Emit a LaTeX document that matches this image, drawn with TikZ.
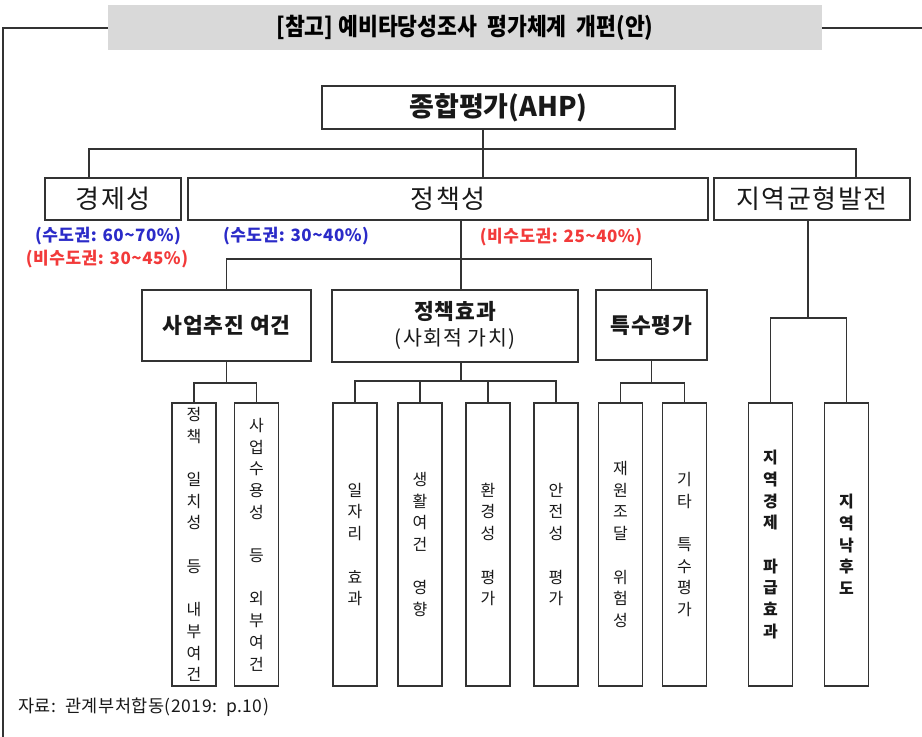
\documentclass[tikz,border=0pt]{standalone}
\usepackage{fontspec}
\usepackage{graphicx}
\setmainfont{Noto Sans CJK KR}
\definecolor{lineC}{HTML}{333333}
\definecolor{titleGray}{HTML}{D9D9D9}
\definecolor{pctBlue}{HTML}{2B2BC8}
\definecolor{pctRed}{HTML}{F23A3A}
\begin{document}
\begin{tikzpicture}[x=1pt,y=-1pt,
  box/.style={draw=lineC, line width=1.2pt, inner sep=0pt, fill=white, text=black!90, align=center},
  lvlone/.style={box, minimum height=42pt, font=\fontsize{26}{30}\selectfont\addfontfeature{LetterSpace=6}},
  lvltwo/.style={box, font=\fontsize{21.5}{26}\selectfont\bfseries\addfontfeature{LetterSpace=4}},
  leaf/.style={box, minimum width=44pt, minimum height=283pt, font=\fontsize{16}{21.7}\selectfont},
  conn/.style={draw=lineC, line width=1.3pt},
  pctb/.style={text=pctBlue, font=\fontsize{17}{20}\selectfont\bfseries\addfontfeature{LetterSpace=3}, inner sep=0pt},
  pctr/.style={text=pctRed, font=\fontsize{17}{20}\selectfont\bfseries\addfontfeature{LetterSpace=3}, inner sep=0pt}
]
\useasboundingbox (0,0) rectangle (922,737);

% frame and title
\node[fill=titleGray, minimum width=714pt, minimum height=45pt, inner sep=0pt] (title) at (465,27.5)
  {\scalebox{0.9}[1]{\fontsize{24}{28}\selectfont\bfseries [참고]\ 예비타당성조사\ \ 평가체계\ \ 개편(안)}};
\coordinate (frameTL) at (3,28);
\coordinate (frameBL) at (3,737);
\coordinate (frameR) at (922,28);
\draw[conn] (frameBL) -- (frameTL) -- (title.west |- frameTL);
\draw[conn] (title.east |- frameR) -- (frameR);

% level 0
\node[box, minimum width=353pt, minimum height=43pt, font=\fontsize{27}{30}\selectfont\bfseries] (ahp) at (498.5,107.5) {종합평가(AHP)};

% level 1
\node[lvlone, minimum width=136pt] (gj) at (113,199) {경제성};
\node[lvlone, minimum width=520pt] (jc) at (448,199) {정책성};
\node[lvlone, minimum width=196pt] (jy) at (812,199) {지역균형발전};

% percentages
\node[pctb] (p1) at (108,236) {(수도권: 60\textasciitilde70\%)};
\node[pctr] (p2) at (107,259) {(비수도권: 30\textasciitilde45\%)};
\node[pctb] (p3) at (296,236) {(수도권: 30\textasciitilde40\%)};
\node[pctr] (p4) at (561,237) {(비수도권: 25\textasciitilde40\%)};

% level 2
\node[lvltwo, minimum width=169pt, minimum height=71pt] (sa) at (226.5,325.5) {사업추진\ 여건};
\node[box, minimum width=246pt, minimum height=72pt] (jh) at (455,326) {};
\node[font=\fontsize{21.5}{26}\selectfont\bfseries\addfontfeature{LetterSpace=4}, text=black!90, inner sep=0pt] (jhA) at (455,311) {정책효과};
\node[font=\fontsize{20.5}{24}\selectfont\addfontfeature{LetterSpace=6}, text=black!90, inner sep=0pt] (jhB) at (455,339) {(사회적 가치)};
\node[lvltwo, minimum width=111pt, minimum height=70pt] (ts) at (651.5,325) {특수평가};

% leaves
\node[leaf] (c1) at (194,544.5) {정\\책\\~\\일\\치\\성\\~\\등\\~\\내\\부\\여\\건};
\node[leaf] (c2) at (256.5,544.5) {사\\업\\수\\용\\성\\~\\등\\~\\외\\부\\여\\건};
\node[leaf] (c3) at (355,544.5) {일\\자\\리\\~\\효\\과};
\node[leaf] (c4) at (420,544.5) {생\\활\\여\\건\\~\\영\\향};
\node[leaf] (c5) at (488,544.5) {환\\경\\성\\~\\평\\가};
\node[leaf] (c6) at (556,544.5) {안\\전\\성\\~\\평\\가};
\node[leaf] (c7) at (620.5,544.5) {재\\원\\조\\달\\~\\위\\험\\성};
\node[leaf] (c8) at (684.5,544.5) {기\\타\\~\\특\\수\\평\\가};
\node[leaf, font=\fontsize{16}{21.7}\selectfont\bfseries] (c9) at (770.5,544.5) {지\\역\\경\\제\\~\\파\\급\\효\\과};
\node[leaf, font=\fontsize{16}{21.7}\selectfont\bfseries] (c10) at (846.5,544.5) {지\\역\\낙\\후\\도};

% source
\node[anchor=west, font=\fontsize{17.5}{20}\selectfont\addfontfeature{LetterSpace=3}, text=black!90, inner sep=0pt] (src) at (18,707) {자료:\ \ 관계부처합동(2019:\ \ p.10)};

% connectors level 0 -> 1
\coordinate (b0) at (483,149);
\coordinate (b0L) at (89,149);
\coordinate (b0R) at (856,149);
\draw[conn] (ahp.south -| b0) -- (b0 |- jc.north);
\draw[conn] (b0L |- gj.north) -- (b0L) -- (b0R) -- (b0R |- jy.north);

% jc -> level 2
\coordinate (b1) at (461,259);
\draw[conn] (jc.south -| b1) -- (b1 |- jh.north);
\draw[conn] (sa.north) -- (sa.north |- b1) -- (b1) -- (ts.north |- b1) -- (ts.north);

% jy -> c9, c10
\coordinate (b2) at (808,318);
\draw[conn] (jy.south -| b2) -- (b2);
\draw[conn] (c9.north) -- (c9.north |- b2) -- (c10.north |- b2) -- (c10.north);

% sa -> c1, c2
\coordinate (b3) at (226.5,383);
\draw[conn] (sa.south) -- (b3);
\draw[conn] (c1.north) -- (c1.north |- b3) -- (c2.north |- b3) -- (c2.north);

% jh -> c3..c6
\coordinate (b4) at (461,381);
\draw[conn] (jh.south -| b4) -- (b4);
\draw[conn] (c3.north) -- (c3.north |- b4) -- (c6.north |- b4) -- (c6.north);
\draw[conn] (c4.north |- b4) -- (c4.north);
\draw[conn] (c5.north |- b4) -- (c5.north);

% ts -> c7, c8
\coordinate (b5) at (651.5,383);
\draw[conn] (ts.south) -- (b5);
\draw[conn] (c7.north) -- (c7.north |- b5) -- (c8.north |- b5) -- (c8.north);
\end{tikzpicture}
\end{document}
